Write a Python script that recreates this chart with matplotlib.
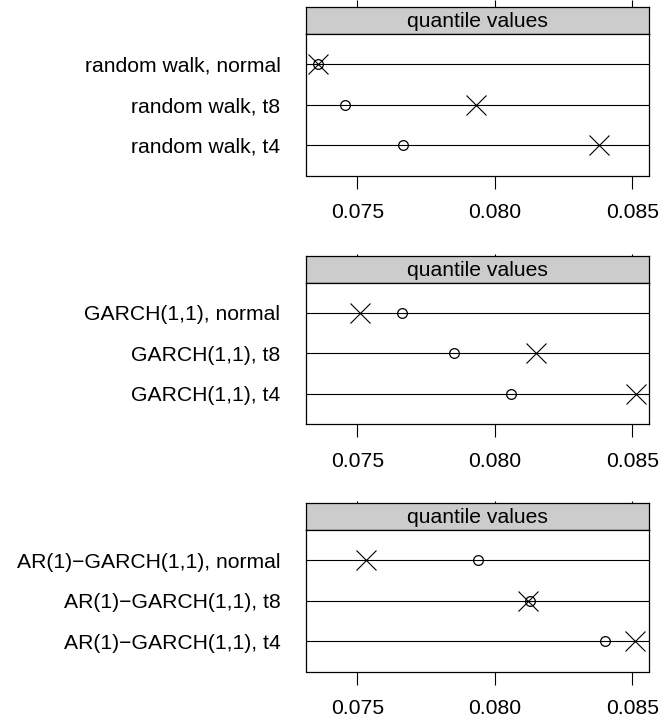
import numpy as np
import matplotlib.pyplot as plt

plt.rcParams['font.family'] = ['Liberation Sans', 'DejaVu Sans']

# model labels for each block, top to bottom
rw_labels = ["random walk, normal", "random walk, t8", "random walk, t4"]
garch_labels = ["GARCH(1,1), normal", "GARCH(1,1), t8", "GARCH(1,1), t4"]
ar_labels = ["AR(1)\u2212GARCH(1,1), normal", "AR(1)\u2212GARCH(1,1), t8",
             "AR(1)\u2212GARCH(1,1), t4"]

# quantile values: circles (first estimate) and crosses (second estimate)
rw_circle = [0.07357, 0.07454, 0.07666]
rw_cross = [0.07357, 0.07933, 0.08380]
garch_circle = [0.07662, 0.07850, 0.08059]
garch_cross = [0.07510, 0.08151, 0.08513]
ar_circle = [0.07940, 0.08129, 0.08401]
ar_cross = [0.07530, 0.08120, 0.08510]

xticks = [0.075, 0.080, 0.085]
xticklabels = ["0.075", "0.080", "0.085"]

panels = [
    (rw_labels, rw_circle, rw_cross),
    (garch_labels, garch_circle, garch_cross),
    (ar_labels, ar_circle, ar_cross),
]

# common x range over all panels, padded like lattice (4% each side)
allvals = np.concatenate([rw_circle, rw_cross, garch_circle, garch_cross,
                          ar_circle, ar_cross])
lo, hi = allvals.min(), allvals.max()
pad = 0.04 * (hi - lo)
xlim = (lo - pad, hi + pad)

W, H = 662, 722
fig = plt.figure(figsize=(W / 100, H / 100), dpi=100)

left_px, right_px = 305.5, 648.5
strip_h, box_h = 27, 141.5
strip_tops = [7, 255.5, 503]
top_tick_len = [5, 1.5, 1.5]
fs = 15.2

for (labels, circ, cross), top, ttl in zip(panels, strip_tops, top_tick_len):
    x0 = left_px / W
    w = (right_px - left_px) / W
    # strip
    sax = fig.add_axes([x0, 1 - (top + strip_h) / H, w, strip_h / H])
    sax.set_facecolor('#cccccc')
    sax.set_xlim(*xlim)
    sax.set_ylim(0, 1)
    sax.text(0.5, 0.45, "quantile values", transform=sax.transAxes,
             ha='center', va='center', fontsize=fs)
    sax.set_yticks([])
    sax.set_xticks(xticks)
    sax.xaxis.set_ticks_position('top')
    sax.tick_params(axis='x', direction='out', length=ttl, width=0.8,
                    labeltop=False, labelbottom=False)
    for sp in sax.spines.values():
        sp.set_linewidth(0.9)

    # panel
    ax = fig.add_axes([x0, 1 - (top + strip_h + box_h) / H, w, box_h / H])
    ypos = np.arange(1, len(labels) + 1)
    for y in ypos:
        ax.axhline(y, color='black', linewidth=0.8, zorder=1)
    ax.plot(circ, ypos, linestyle='none', marker='o', markersize=7,
            markerfacecolor='none', markeredgecolor='black',
            markeredgewidth=0.9, zorder=3)
    ax.plot(cross, ypos, linestyle='none', marker='x', markersize=14,
            markeredgecolor='black', markeredgewidth=0.8, zorder=3)
    ax.set_xlim(*xlim)
    ax.set_ylim(len(labels) + 0.75, 0.25)
    ax.set_yticks(ypos)
    ax.set_yticklabels(labels, fontsize=fs)
    ax.tick_params(axis='y', length=0, pad=18)
    ax.set_xticks(xticks)
    ax.set_xticklabels(xticklabels, fontsize=fs)
    ax.tick_params(axis='x', direction='out', length=9, width=0.8, pad=11)
    for sp in ax.spines.values():
        sp.set_linewidth(0.9)

fig.savefig('out.png', dpi=100)
